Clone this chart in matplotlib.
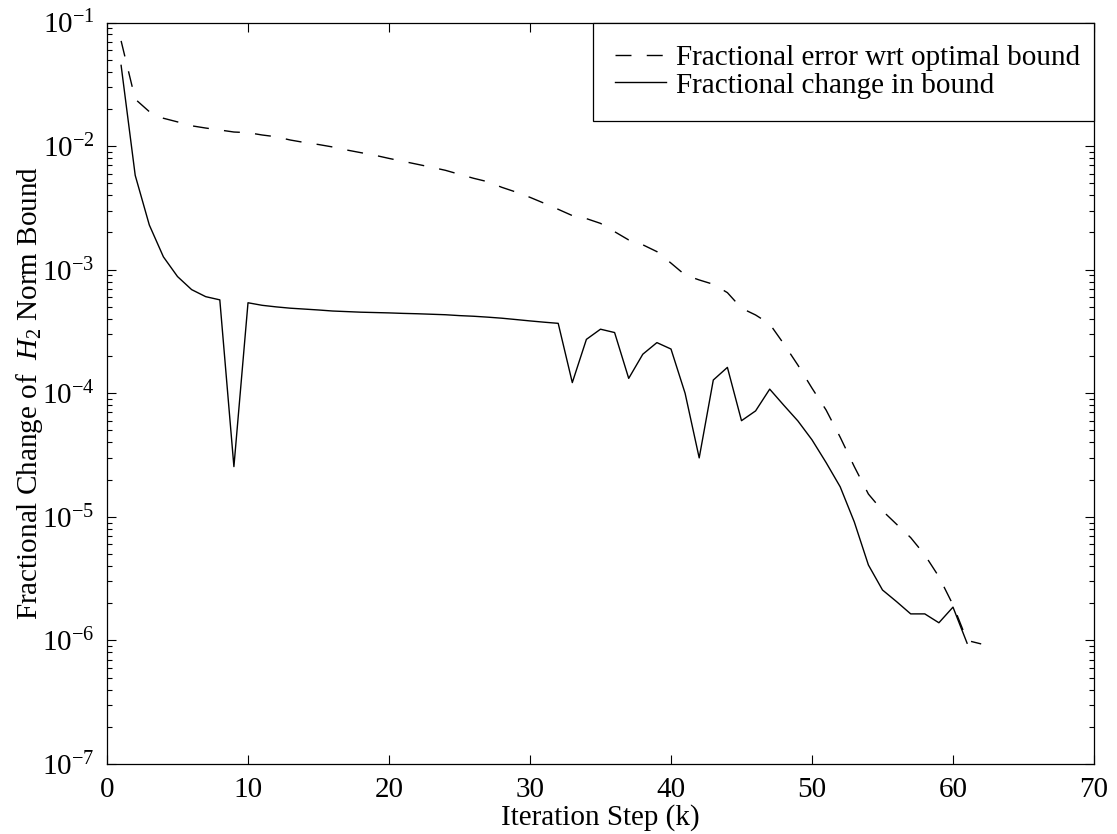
import numpy as np
import matplotlib
matplotlib.use('Agg')
import matplotlib.pyplot as plt

# 迭代步
k_err = np.arange(1, 63)
k_chg = np.arange(1, 62)

# Fractional error wrt optimal bound (虚线)
frac_error = [
    7.1e-2, 2.4e-2, 1.9e-2, 1.68e-2, 1.57e-2, 1.46e-2, 1.40e-2, 1.35e-2, 1.30e-2, 1.285e-2,
    1.23e-2, 1.19e-2, 1.12e-2, 1.07e-2, 1.03e-2, 9.84e-3, 9.3e-3, 8.85e-3, 8.43e-3, 7.95e-3,
    7.53e-3, 7.13e-3, 6.75e-3, 6.37e-3, 5.91e-3, 5.49e-3, 5.15e-3, 4.64e-3, 4.25e-3, 3.85e-3,
    3.45e-3, 3.08e-3, 2.74e-3, 2.59e-3, 2.37e-3, 2.03e-3, 1.74e-3, 1.59e-3, 1.40e-3, 1.13e-3,
    9.06e-4, 8.26e-4, 7.62e-4, 6.52e-4, 4.88e-4, 4.30e-4, 3.64e-4, 2.51e-4, 1.69e-4, 1.10e-4,
    7.32e-5, 4.41e-5, 2.55e-5, 1.53e-5, 1.12e-5, 8.71e-6, 6.79e-6, 4.92e-6, 3.28e-6, 1.94e-6,
    1.0e-6, 9.37e-7,
]

# Fractional change in bound (实线)
frac_change = [
    4.5e-2, 5.8e-3, 2.3e-3, 1.27e-3, 8.8e-4, 6.9e-4, 6.05e-4, 5.7e-4, 2.55e-5, 5.4e-4,
    5.15e-4, 5.0e-4, 4.88e-4, 4.8e-4, 4.72e-4, 4.63e-4, 4.58e-4, 4.53e-4, 4.5e-4, 4.47e-4,
    4.43e-4, 4.4e-4, 4.36e-4, 4.32e-4, 4.25e-4, 4.2e-4, 4.13e-4, 4.05e-4, 3.95e-4, 3.85e-4,
    3.76e-4, 3.68e-4, 1.22e-4, 2.73e-4, 3.3e-4, 3.1e-4, 1.32e-4, 2.07e-4, 2.57e-4, 2.28e-4,
    1.0e-4, 3.0e-5, 1.28e-4, 1.62e-4, 6.0e-5, 7.2e-5, 1.08e-4, 8.0e-5, 5.97e-5, 4.2e-5,
    2.75e-5, 1.75e-5, 9.1e-6, 4.08e-6, 2.56e-6, 2.06e-6, 1.64e-6, 1.64e-6, 1.39e-6, 1.86e-6,
    9.5e-7,
]

plt.rcParams['font.family'] = ['Liberation Serif', 'DejaVu Serif']
plt.rcParams['mathtext.fontset'] = 'custom'
plt.rcParams['mathtext.rm'] = 'Liberation Serif'
plt.rcParams['mathtext.it'] = 'Liberation Serif:italic'
plt.rcParams['font.size'] = 21

fig = plt.figure(figsize=(11.17, 8.34), dpi=100)
ax = fig.add_axes([0.0958, 0.0839, 0.8836, 0.8891])

ax.semilogy(k_err, frac_error, color='black', linewidth=1.0, dashes=(11.5, 11),
            label='Fractional error wrt optimal bound')
ax.semilogy(k_chg, frac_change, color='black', linewidth=1.0, linestyle='-',
            label='Fractional change in bound')

ax.set_xlim(0, 70)
ax.set_ylim(1e-7, 1e-1)
ax.set_xticks(np.arange(0, 71, 10))

ax.tick_params(which='both', direction='in', top=True, right=True, width=0.8)
ax.tick_params(which='major', length=6.5, pad=9)
ax.tick_params(which='minor', length=3.6)
for s in ax.spines.values():
    s.set_linewidth(0.9)

ax.set_xlabel('Iteration Step (k)', labelpad=1)
ax.set_ylabel(r'Fractional Change of  $H_2$ Norm Bound', labelpad=-2)

leg = ax.legend(loc='upper right', bbox_to_anchor=(0.4924, 0.8685, 0.5076, 0.1315),
                mode='expand', borderaxespad=0, fancybox=False, framealpha=1,
                edgecolor='black', handlelength=1.75, handletextpad=0.35,
                labelspacing=0.05, borderpad=0.75)
leg.get_frame().set_linewidth(0.9)

fig.savefig('out.png', dpi=100)
